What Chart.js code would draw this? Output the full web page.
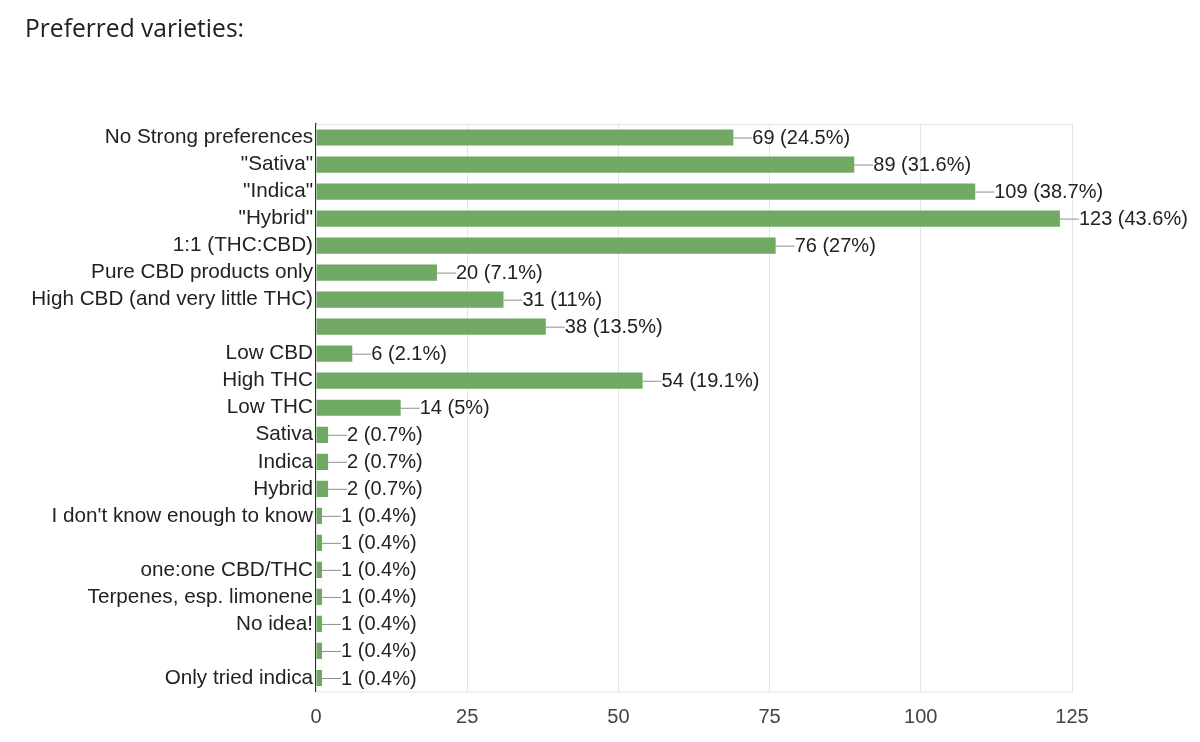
<!DOCTYPE html>
<html lang="en">
<head>
    <meta charset="UTF-8">
    <title>Preferred varieties</title>
    <style>
        body { margin: 0; background: #fff; }
        #wrap { position: relative; width: 1200px; height: 742px; }
        #title {
            position: absolute; left: 25px; top: 11px;
            font-family: "Open Sans", Roboto, sans-serif;
            font-size: 24.6px; color: #202124;
        }
    </style>
</head>
<body>
<div id="wrap">
    <div id="title">Preferred varieties:</div>
    <canvas id="myChart" width="1200" height="742"></canvas>
</div>

<script src="https://cdn.jsdelivr.net/npm/chart.js"></script>

<script>
    // categories (blank ones are empty answers in the form)
    const categories = [
        'No Strong preferences', '"Sativa"', '"Indica"', '"Hybrid"', '1:1 (THC:CBD)',
        'Pure CBD products only', 'High CBD (and very little THC)', '', 'Low CBD', 'High THC',
        'Low THC', 'Sativa', 'Indica', 'Hybrid', "I don't know enough to know",
        '', 'one:one CBD/THC', 'Terpenes, esp. limonene', 'No idea!', '', 'Only tried indica'
    ];
    const counts = [69, 89, 109, 123, 76, 20, 31, 38, 6, 54, 14, 2, 2, 2, 1, 1, 1, 1, 1, 1, 1];
    const percents = ['24.5%', '31.6%', '38.7%', '43.6%', '27%', '7.1%', '11%', '13.5%', '2.1%', '19.1%',
        '5%', '0.7%', '0.7%', '0.7%', '0.4%', '0.4%', '0.4%', '0.4%', '0.4%', '0.4%', '0.4%'];
    const xTicks = [0, 25, 50, 75, 100, 125];

    const FONT = '"Liberation Sans"';
    const SIZE = 20;

    // light frame round the plot area
    const frame = {
        id: 'frame',
        beforeDatasetsDraw(chart) {
            const {ctx, chartArea: a} = chart;
            ctx.save();
            ctx.strokeStyle = '#e4e4e4';
            ctx.lineWidth = 1;
            ctx.strokeRect(a.left + 0.5, a.top + 0.5, a.right - a.left, a.bottom - a.top);
            ctx.restore();
        }
    };

    // "—69 (24.5%)" labels at the end of each bar
    const valueLabels = {
        id: 'valueLabels',
        afterDatasetsDraw(chart) {
            const ctx = chart.ctx;
            const meta = chart.getDatasetMeta(0);
            ctx.save();
            ctx.font = SIZE + 'px ' + FONT;
            ctx.textBaseline = 'middle';
            meta.data.forEach((bar, i) => {
                const x = bar.x, y = bar.y;
                ctx.strokeStyle = '#8f8f8f';
                ctx.lineWidth = 1;
                ctx.beginPath();
                ctx.moveTo(x, y + 0.5);
                ctx.lineTo(x + 19, y + 0.5);
                ctx.stroke();
                ctx.fillStyle = '#222';
                ctx.fillText(counts[i] + ' (' + percents[i] + ')', x + 19, y + 1);
            });
            ctx.restore();
        }
    };

    new Chart(document.getElementById('myChart'), {
        type: 'bar',
        data: {
            labels: categories,
            datasets: [{
                data: counts,
                backgroundColor: '#6fa964',
                borderWidth: 0,
                barPercentage: 0.6,
                categoryPercentage: 1
            }]
        },
        options: {
            indexAxis: 'y',
            responsive: false,
            animation: false,
            layout: { padding: { top: 124, right: 128, left: 0, bottom: 0 } },
            scales: {
                x: {
                    min: 0, max: 125,
                    afterBuildTicks: axis => { axis.ticks = xTicks.map(v => ({value: v})); },
                    grid: { color: '#e4e4e4', drawTicks: false },
                    border: { display: false },
                    ticks: { color: '#444', padding: 14, font: { family: FONT, size: SIZE } },
                    afterFit: axis => { axis.height = 50.5; }
                },
                y: {
                    grid: { display: false, drawTicks: false },
                    border: { color: '#333', width: 1.5 },
                    ticks: { color: '#222', padding: 3, autoSkip: false, font: { family: FONT, size: 20.7 } },
                    afterFit: axis => { axis.width = 316; }
                }
            },
            plugins: {
                legend: { display: false },
                tooltip: { enabled: false }
            }
        },
        plugins: [frame, valueLabels]
    });
</script>
</body>
</html>
